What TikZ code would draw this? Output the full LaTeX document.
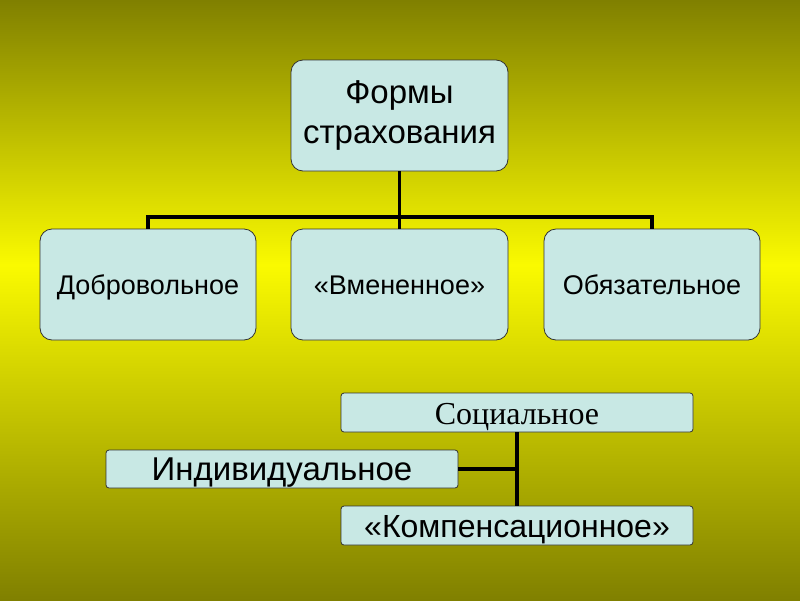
\documentclass[tikz,border=0pt]{standalone}
\usepackage{fontspec}
\setmainfont{Liberation Sans}
\newfontfamily\serifru{Liberation Serif}
\begin{document}
\begin{tikzpicture}[x=1pt,y=-1pt,
  box/.style={draw=black!80,fill=boxc,rounded corners=12pt,line width=0.8pt,align=center,inner sep=0pt},
  fixa/.style={text height=22pt,text depth=2.5pt},
  fixb/.style={text height=26pt,text depth=2.5pt},
  sbox/.style={draw=black!80,fill=boxc,rounded corners=3pt,line width=0.8pt,inner sep=0pt,fixb},
  conn/.style={line width=3.5pt,black}]
\definecolor{boxc}{RGB}{200,232,228}
\definecolor{olive1}{RGB}{128,128,0}
\definecolor{yel}{RGB}{250,250,0}
\shade[top color=olive1,bottom color=yel] (0,0) rectangle (800,265);
\shade[top color=yel,bottom color=olive1] (0,265) rectangle (800,600);
\useasboundingbox (0,0) rectangle (800,600);
\node[box,minimum width=217pt,minimum height=111pt,font=\fontsize{33}{40}\selectfont] (top) at (399.5,115.5) {Формы\\страхования};
\node[box,fixa,minimum width=216pt,minimum height=111pt,font=\fontsize{27}{32}\selectfont] (a) at (148,284.5) {Добровольное};
\node[box,fixa,minimum width=217pt,minimum height=111pt,font=\fontsize{27}{32}\selectfont] (b) at (399.5,284.5) {«Вмененное»};
\node[box,fixa,minimum width=216pt,minimum height=111pt,font=\fontsize{27}{32}\selectfont] (c) at (652,284.5) {Обязательное};
\coordinate (j) at (399.5,217);
\draw[conn] (top.south) -- (j);
\draw[conn] (a.north) |- (j) -| (c.north);
\draw[conn] (j) -- (b.north);
\node[sbox,minimum width=352pt,minimum height=39pt,font=\serifru\fontsize{32}{38}\selectfont] (s) at (517,412.5) {Социальное};
\node[sbox,minimum width=352pt,minimum height=38pt,font=\fontsize{33}{38}\selectfont] (i) at (282,469) {Индивидуальное};
\node[sbox,minimum width=352pt,minimum height=39pt,font=\fontsize{32}{38}\selectfont] (k) at (517,525.5) {«Компенсационное»};
\coordinate (m) at (517,469);
\draw[conn] (s.south) -- (k.north);
\draw[conn] (i.east) -- (m);
\end{tikzpicture}
\end{document}
